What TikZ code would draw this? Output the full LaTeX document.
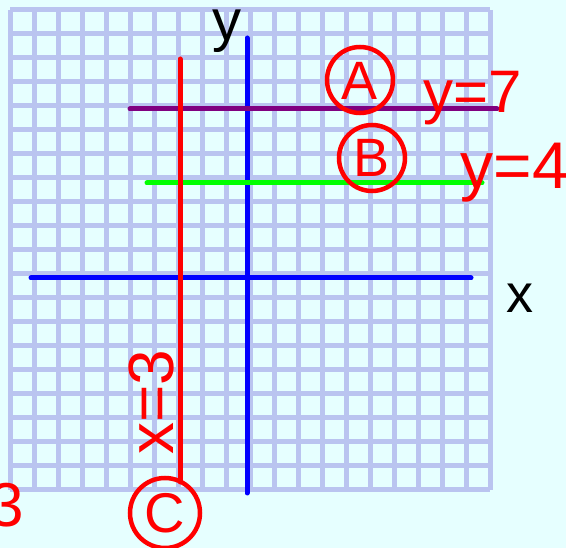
\documentclass[tikz,border=0pt]{standalone}
\usepackage{fontspec}
\setmainfont{Liberation Sans}
\definecolor{bgcyan}{RGB}{230,255,255}
\definecolor{gridblue}{RGB}{186,196,240}
\definecolor{lnpurple}{RGB}{128,0,128}
\definecolor{lngreen}{RGB}{0,255,0}
\definecolor{lnblue}{RGB}{0,0,255}
\definecolor{lnred}{RGB}{255,0,0}
\tikzset{
  gridline/.style={draw=gridblue, line width=5pt},
  plotline/.style={line width=5pt, line cap=round},
  hand/.style={text=lnred, inner sep=0pt, anchor=base},
  ring/.style={draw=lnred, line width=4.5pt, circle, minimum size=#1, inner sep=0pt},
  axlabel/.style={text=black, inner sep=0pt, anchor=base}
}
\begin{document}
\begin{tikzpicture}[x=1pt,y=-1pt]
\useasboundingbox (0,0) rectangle (566,548);
\fill[bgcyan] (0,0) rectangle (566,548);
% grid
\foreach \i in {0,...,20}{
  \draw[gridline] (10+24*\i,10) -- (10+24*\i,490);
  \draw[gridline] (10,10+24*\i) -- (490,10+24*\i);
}
% endpoints
\coordinate (xl) at (31,278);
\coordinate (xr) at (471,278);
\coordinate (yt) at (247,38);
\coordinate (yb) at (247,493);
\coordinate (pl) at (130,109);
\coordinate (pr) at (497,109);
\coordinate (gl) at (147,183);
\coordinate (gr) at (482,183);
\coordinate (rt) at (180,59);
\coordinate (rb) at (180,482);
% axes
\draw[plotline, lnblue] (xl) -- (xr);
\draw[plotline, lnblue] (yt) -- (yb);
% lines
\draw[plotline, lnpurple] (pl) -- (pr);
\draw[plotline, lngreen] (gl) -- (gr);
\draw[plotline, lnred] (rt) -- (rb);
% axis labels
\node[axlabel, font=\fontsize{58}{58}\selectfont] (ylab) at (227,41) {y};
\node[axlabel, font=\fontsize{54}{54}\selectfont] (xlab) at (520,313) {x};
% annotations
\node[ring=66pt] (ca) at (360,80) {};
\node[hand, font=\fontsize{54}{54}\selectfont] (la) at (360,100) {A};
\node[hand, font=\fontsize{60}{60}\selectfont] (eq7) at (473,113) {y=7};
\node[ring=66pt] (cb) at (372,158) {};
\node[hand, font=\fontsize{54}{54}\selectfont] (lb) at (372,177) {B};
\node[hand, font=\fontsize{66}{66}\selectfont] (eq4) at (515,189) {y=4};
\node[hand, rotate=90, font=\fontsize{64}{64}\selectfont] (eqx) at (173,402) {x=3};
\node[ring=70pt] (cc) at (165,513) {};
\node[hand, font=\fontsize{56}{56}\selectfont] (lc) at (165,533) {C};
\node[text=lnred, inner sep=0pt, anchor=base east, font=\fontsize{62}{62}\selectfont] (stray) at (24,527) {3};
\end{tikzpicture}
\end{document}
